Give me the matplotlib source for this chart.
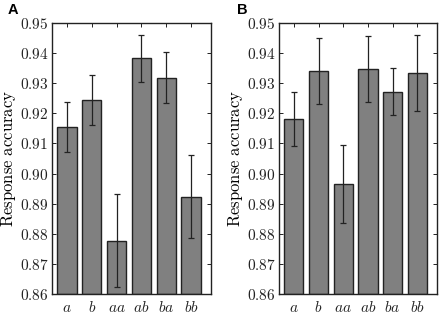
import matplotlib
matplotlib.use("Agg")
import matplotlib.pyplot as plt
from matplotlib.ticker import FuncFormatter, FixedLocator
import numpy as np

plt.rcParams['mathtext.fontset'] = 'cm'

categories = ['a', 'b', 'aa', 'ab', 'ba', 'bb']
acc_A = [0.9155, 0.9243, 0.8777, 0.9383, 0.9319, 0.8923]
err_A = [0.0082, 0.0083, 0.0154, 0.0078, 0.0086, 0.0138]
acc_B = [0.9182, 0.9341, 0.8965, 0.9348, 0.9272, 0.9333]
err_B = [0.0089, 0.0109, 0.0130, 0.0109, 0.0078, 0.0126]
yticks = [0.86, 0.87, 0.88, 0.89, 0.90, 0.91, 0.92, 0.93, 0.94, 0.95]
panel_labels = ['A', 'B']

fig = plt.figure(figsize=(4.43, 3.17), dpi=100)
positions = [[52/443, 23/317, 159/443, 271/317], [279/443, 23/317, 158/443, 271/317]]
label_x = [8/443, 237/443]

for pos, vals, errs, lab, lx in zip(positions, [acc_A, acc_B], [err_A, err_B], panel_labels, label_x):
    ax = fig.add_axes(pos)
    x = np.arange(len(categories))
    ax.bar(x, np.array(vals) - 0.86, bottom=0.86, width=0.78, color='#808080',
           edgecolor='#222222', linewidth=1.0, zorder=2)
    ax.errorbar(x, vals, yerr=errs, fmt='none', ecolor='#222222', elinewidth=0.9,
                capsize=2, capthick=0.9, zorder=3)
    ax.set_xlim(-0.6, 5.8)
    ax.set_ylim(0.86, 0.95)
    ax.yaxis.set_major_locator(FixedLocator(yticks))
    ax.yaxis.set_major_formatter(FuncFormatter(lambda v, p: r'$%.2f$' % v))
    ax.set_xticks(x)
    ax.set_xticklabels([r'$%s$' % c for c in categories], fontsize=12)
    ax.tick_params(direction='in', top=True, right=True, length=3, width=0.7,
                   labelsize=11, pad=2.5, colors='#222222')
    ax.tick_params(axis='x', pad=4)
    for s in ax.spines.values():
        s.set_linewidth(1.0)
        s.set_color('#222222')
    ax.set_ylabel(r'$\mathrm{Response\ accuracy}$', fontsize=12)
    ax.yaxis.set_label_coords(-34 / (pos[2] * 443), 0.5)
    fig.text(lx, 1 - 3/317, lab, fontsize=10.5, fontweight='bold',
             family='Liberation Sans', va='top', ha='left')

fig.savefig('out.png', dpi=100)
